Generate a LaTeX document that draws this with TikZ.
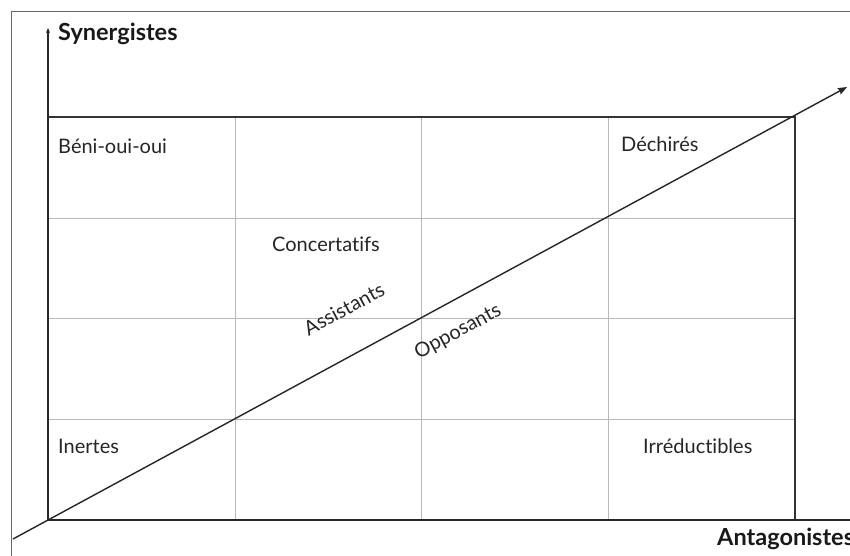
\documentclass[tikz,border=0pt]{standalone}
\usepackage{fontspec}
\setmainfont{Lato}[Ligatures={NoCommon,NoContextual}]
\usetikzlibrary{arrows.meta}
\begin{document}
\begin{tikzpicture}[x=1pt,y=-1pt,
  frame/.style={draw=black!60, line width=1pt},
  axis/.style={draw=black!85, line width=1.4pt},
  border/.style={draw=black!80, line width=1.1pt},
  gridline/.style={draw=black!28, line width=0.6pt},
  diag/.style={draw=black!85, line width=1.4pt},
  lbl/.style={font=\fontsize{20}{24}\selectfont, text=black!85, inner sep=0pt, anchor=base west},
  axlbl/.style={font=\fontsize{23.5}{27}\selectfont\bfseries, text=black!90, inner sep=0pt, anchor=base west},
  slant/.style={font=\fontsize{20}{24}\selectfont, text=black!85, inner sep=0pt, rotate=28.35},
]
\useasboundingbox (0,0) rectangle (850,555);
\fill[white] (0,0) rectangle (850,555);

% key points
\coordinate (O) at (48,520);
\coordinate (ytip) at (48,28);
\coordinate (xend) at (880,520);
\coordinate (TL) at (48,117);
\coordinate (TR) at (795,117);
\coordinate (BR) at (795,520);
\coordinate (dstart) at (13,539);
\coordinate (dtip) at (847,87);
\coordinate (fA) at (11,570);
\coordinate (fB) at (11,11);
\coordinate (fC) at (880,11);

% outer frame
\draw[frame] (fA) -- (fB) -- (fC);

% inner grid (4 x 4)
\foreach \gx/\nm in {235/v1,421.5/v2,608/v3}{
  \coordinate (\nm t) at (\gx,117);
  \coordinate (\nm b) at (\gx,520);
  \draw[gridline] (\nm t) -- (\nm b);
}
\foreach \gy/\nm in {218/h1,318.5/h2,419/h3}{
  \coordinate (\nm l) at (48,\gy);
  \coordinate (\nm r) at (795,\gy);
  \draw[gridline] (\nm l) -- (\nm r);
}

% grid border (top and right)
\draw[border] (TL) -- (TR) -- (BR);

% axes
\draw[axis, -{Stealth[length=5pt,width=4pt]}] (O) -- (ytip);
\draw[axis] (O) -- (xend);

% diagonal
\draw[diag, -{Stealth[length=9pt,width=7pt,inset=1pt]}] (dstart) -- (dtip);

% labels (kern keeps "t" and "i" as separate glyphs)
\node[axlbl] (syn) at (58,40) {Synergistes};
\node[axlbl] (ant) at (717,545) {Antagonistes};
\node[lbl] (beni) at (58,153) {Béni-oui-oui};
\node[lbl] (dech) at (621,151) {Déchirés};
\node[lbl] (conc) at (272,251) {Concerta\kern0pt tifs};
\node[lbl] (inert) at (58,453) {Inertes};
\node[lbl] (irr) at (643,453) {Irréduc\kern0pt tibles};
\node[slant] (assist) at (344,309) {Assistants};
\node[slant] (oppo) at (458,332) {Opposants};
\end{tikzpicture}
\end{document}
